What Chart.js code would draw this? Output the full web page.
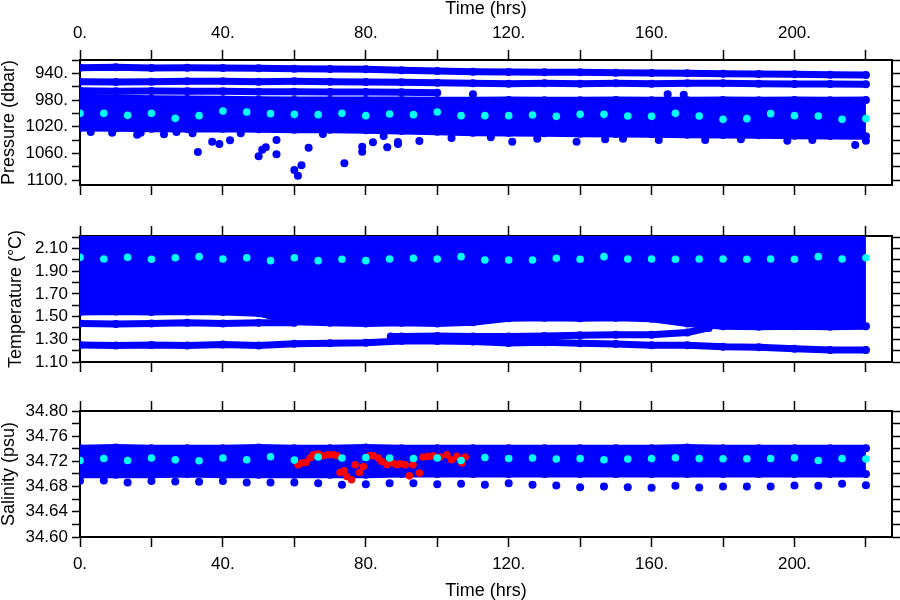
<!DOCTYPE html>
<html>
<head>
<meta charset="utf-8">
<script src="https://cdn.jsdelivr.net/npm/chart.js@4.4.1/dist/chart.umd.min.js"></script>
<style>
  body { margin: 0; background: #fff; }
  #wrap { position: relative; width: 900px; height: 600px; background: #fff; }
  #wrap canvas { position: absolute; left: 0; top: 0; }
</style>
</head>
<body>
<div id="wrap">
  <canvas id="pressure-chart" width="900" height="600"></canvas>
  <canvas id="temperature-chart" width="900" height="600"></canvas>
  <canvas id="salinity-chart" width="900" height="600"></canvas>
</div>
<script>
const BLUE = '#0000ff'
const CYAN = '#00ffff'
const RED = '#ff0000'
const FONT = "'Liberation Sans', Arial, sans-serif"

// time axis (hrs)
const xTicks = [0, 20, 40, 60, 80, 100, 120, 140, 160, 180, 200, 220]
const xLabelled = [0, 40, 80, 120, 160, 200]
const rowTimes = [0, 10, 20, 30, 40, 50, 60, 70, 80, 90, 100, 110, 120, 130, 140, 150, 160, 170, 180, 190, 200, 210, 220]
const cyanTimes = [0, 6.67, 13.33, 20, 26.67, 33.33, 40, 46.67, 53.33, 60, 66.67, 73.33, 80, 86.67, 93.33, 100,
    106.67, 113.33, 120, 126.67, 133.33, 140, 146.67, 153.33, 160, 166.67, 173.33, 180, 186.67, 193.33, 200, 206.67, 213.33, 220]

// pressure (dbar)
const presTicks = [920, 940, 960, 980, 1000, 1020, 1040, 1060, 1080, 1100]
const presLabelled = [940, 980, 1020, 1060, 1100]
const presRowA = [931.5, 931, 932, 931.5, 932, 932.5, 933, 933.5, 934, 935.5, 936.5, 937.5, 938, 938.5, 938.5, 939, 939.5, 940, 940.5, 941, 941.5, 942, 942.5]
const presRowB = [952.5, 953, 952.5, 952, 952, 952.5, 952, 952.5, 953, 953.5, 954, 955, 955.5, 955, 955.5, 955, 955.5, 955, 955, 955.5, 956, 956, 956.5]
const presRowCTimes = [0, 10, 20, 30, 40, 50, 60, 70, 80, 90, 100]
const presRowC = [966, 967, 966.5, 967, 967, 967.5, 967.5, 968, 968, 968.5, 969]
const presBandTop = [976, 977, 978, 978.5, 979, 979.5, 980, 980, 980, 980, 980.5, 980.5, 980, 980.5, 980.5, 980, 980.5, 980.5, 980, 980.5, 980, 980.5, 980]
const presBandBottom = [1022, 1022.5, 1023, 1023.5, 1023, 1024, 1024.5, 1024.5, 1025.5, 1026.5, 1027.5, 1029, 1029.5, 1030, 1030.5, 1031, 1031.5, 1032, 1032.5, 1033, 1033.5, 1034, 1034.5]
const presCyan = [1000, 1000, 1003, 1000, 1007.5, 1003.5, 996.5, 998, 1000.5, 1001.5, 1002, 1000, 1003.5, 1001, 1002, 998,
    1003.5, 1003.5, 1003.5, 1002.5, 1004.5, 1001.5, 1001.5, 1004, 1004.5, 1000, 1004, 1009, 1008, 1000.5, 1003.5, 1004, 1009, 1008]
const presOutTimes = [3, 9, 16, 17, 23.5, 27, 31.5, 33, 37, 39, 42, 45, 50, 51, 52, 55, 55, 60, 61, 62, 64, 68, 74, 79, 79, 82, 85, 86, 89, 89, 95,
    104, 110, 115, 121, 128, 139, 147, 152, 162, 164.5, 169, 175, 185, 198, 205, 217, 220]
const presOutValues = [1028, 1029, 1032, 1029, 1031.5, 1028, 1030, 1058, 1042.5, 1046, 1040.5, 1030, 1064.5, 1054.5, 1051, 1061.5, 1040, 1085, 1093.5, 1078, 1051.5, 1031, 1075, 1050, 1057.5, 1043.5, 1034, 1051, 1043, 1046, 1041.5,
    1037, 971.5, 1036, 1042.5, 1038, 1042.5, 1039, 1038, 1040, 971.5, 972, 1040, 1039, 1041, 1040, 1047.5, 1041]

// temperature (deg C)
const tempTicks = [1.1, 1.2, 1.3, 1.4, 1.5, 1.6, 1.7, 1.8, 1.9, 2.0, 2.1, 2.2]
const tempLabelled = [1.1, 1.3, 1.5, 1.7, 1.9, 2.1]
const tempBandBottom = [1.54, 1.545, 1.54, 1.545, 1.54, 1.53, 1.455, 1.445, 1.44, 1.445, 1.44, 1.45, 1.485, 1.49, 1.485, 1.49, 1.48, 1.44, 1.415, 1.41, 1.415, 1.41, 1.415]
const tempUpperRowTimes = [0, 10, 20, 30, 40, 50, 60]
const tempUpperRow = [1.44, 1.435, 1.44, 1.445, 1.44, 1.445, 1.445]
const tempMidRowTimes = [87, 90, 100, 110, 120, 130, 140, 150, 160, 170, 176]
const tempMidRow = [1.325, 1.325, 1.33, 1.325, 1.325, 1.33, 1.335, 1.34, 1.34, 1.36, 1.4]
const tempLowRow = [1.25, 1.245, 1.25, 1.245, 1.255, 1.245, 1.26, 1.265, 1.27, 1.285, 1.285, 1.28, 1.267, 1.275, 1.265, 1.259, 1.247, 1.247, 1.235, 1.23, 1.216, 1.205, 1.206]
const tempCyan = [2.022, 2.007, 2.022, 2.005, 2.019, 2.028, 2.007, 2.019, 1.993, 2.019, 1.993, 2.005, 1.993, 2.007, 2.014, 2.007,
    2.028, 1.999, 1.999, 1.999, 2.014, 2.005, 2.028, 2.007, 2.007, 2.005, 2.007, 2.007, 2.005, 2.007, 2.005, 2.028, 2.007, 2.019]

// salinity (psu)
const salTicks = [34.6, 34.62, 34.64, 34.66, 34.68, 34.7, 34.72, 34.74, 34.76, 34.78, 34.8]
const salLabelled = [34.6, 34.64, 34.68, 34.72, 34.76, 34.8]
const salBandTop = [34.741, 34.742, 34.741, 34.741, 34.741, 34.742, 34.741, 34.741, 34.742, 34.741, 34.741, 34.741, 34.741, 34.741, 34.741, 34.741, 34.741, 34.742, 34.741, 34.741, 34.741, 34.741, 34.741]
const salBandBottom = [34.699, 34.699, 34.699, 34.7, 34.699, 34.699, 34.699, 34.699, 34.699, 34.7, 34.7, 34.7, 34.7, 34.7, 34.7, 34.7, 34.7, 34.7, 34.7, 34.7, 34.7, 34.7, 34.7]
const salCyan = [34.7215, 34.7247, 34.7215, 34.7253, 34.7226, 34.721, 34.7253, 34.7226, 34.7274, 34.7221, 34.7269, 34.7253, 34.7263, 34.7253, 34.7247, 34.7253,
    34.7215, 34.7263, 34.7247, 34.7253, 34.7237, 34.7247, 34.7226, 34.7237, 34.7247, 34.7258, 34.7247, 34.7242, 34.7242, 34.7247, 34.7258, 34.7215, 34.7247, 34.7237]
const salLow = [34.6892, 34.6897, 34.6865, 34.689, 34.688, 34.6876, 34.689, 34.6865, 34.6865, 34.6865, 34.6855, 34.6828, 34.6839, 34.6855, 34.6855, 34.6839,
    34.6844, 34.6828, 34.6855, 34.6828, 34.6817, 34.6791, 34.6801, 34.6791, 34.678, 34.6812, 34.6785, 34.6801, 34.6801, 34.6801, 34.6817, 34.6812, 34.6844, 34.6823]
const salRedTimes = [61, 62, 63.2, 64.4, 65.3, 66.7, 68, 69.5, 70.9, 72, 72.8, 73.9, 74.7, 76, 77, 78.2, 79.3, 81, 82.1, 83.5, 84.5, 85.9, 87.5, 88.7, 89.5,
    91, 92.2, 93.2, 95, 96, 97.5, 98.9, 100.8, 102.7, 104, 105.5, 106.9, 107.8]
const salRed = [34.7146, 34.7174, 34.7183, 34.7253, 34.7306, 34.7317, 34.729, 34.7306, 34.7306, 34.729, 34.7024, 34.7051, 34.696, 34.6908, 34.7146, 34.7024, 34.7119,
    34.729, 34.729, 34.7253, 34.7199, 34.7146, 34.7174, 34.7146, 34.7162, 34.7146, 34.6971, 34.7146, 34.7014, 34.7269, 34.7279, 34.729, 34.7269, 34.7306, 34.7226, 34.7279, 34.7174, 34.7269]


function toPoints(xs, ys){
    let points = []
    for(let i=0; i<xs.length; i++){
        points.push({x: xs[i], y: ys[i]})
    }
    return points
}

function dots(xs, ys, color, radius){
    return {
        data: toPoints(xs, ys),
        showLine: false,
        pointRadius: radius,
        pointBackgroundColor: color,
        pointBorderWidth: 0,
        borderColor: color,
        backgroundColor: color
    }
}

// a row of dense dots: thick round line with dots on it
function row(xs, ys, fill){
    return {
        data: toPoints(xs, ys),
        showLine: true,
        borderColor: BLUE,
        backgroundColor: BLUE,
        borderWidth: 7,
        borderCapStyle: 'round',
        borderJoinStyle: 'round',
        pointRadius: 4,
        pointBackgroundColor: BLUE,
        pointBorderWidth: 0,
        tension: 0,
        fill: fill || false
    }
}

function fixedTicks(values){
    return (scale) => { scale.ticks = values.map(v => ({value: v})) }
}

function axis(position, panel, extra){
    const horizontal = position === 'top' || position === 'bottom'
    return Object.assign({
        type: 'linear',
        position: position,
        z: 1,
        min: horizontal ? 0 : panel.min,
        max: horizontal ? 227.3 : panel.max,
        reverse: horizontal ? false : !!panel.reverse,
        border: {display: true, color: '#000', width: 2},
        grid: {drawOnChartArea: false, drawTicks: true, tickLength: horizontal ? 10 : 8, tickWidth: 1.5, tickColor: '#000'},
        ticks: {display: false, autoSkip: false, maxRotation: 0, color: '#000', font: {family: FONT, size: 17}},
        title: {display: false},
        afterBuildTicks: fixedTicks(horizontal ? xTicks : panel.ticks)
    }, extra)
}

function displayPanel(id, panel){
    const tickFont = {family: FONT, size: 17}
    const titleFont = {family: FONT, size: 18, lineHeight: 1}
    const xLabel = (v) => xLabelled.includes(v) ? v + '.' : ''
    const yLabel = (v) => panel.labelled.includes(v) ? panel.format(v) : ''
    const timeTitle = {display: true, text: 'Time (hrs)', color: '#000', font: titleFont, padding: 0}

    new Chart(document.getElementById(id), {
        type: 'line',
        data: {datasets: panel.datasets},
        options: {
            responsive: false,
            animation: false,
            events: [],
            layout: {padding: 0, autoPadding: false},
            plugins: {legend: {display: false}, tooltip: {enabled: false}},
            scales: {
                x: axis('bottom', panel, {
                    ticks: {display: panel.bottomLabels, autoSkip: false, maxRotation: 0, padding: 7, color: '#000', font: tickFont, callback: xLabel},
                    title: panel.bottomLabels ? timeTitle : {display: false},
                    afterFit: (s) => { s.height = 600 - panel.bottom }
                }),
                x2: axis('top', panel, {
                    ticks: {display: panel.topLabels, autoSkip: false, maxRotation: 0, padding: 6, color: '#000', font: tickFont, callback: xLabel},
                    title: panel.topLabels ? timeTitle : {display: false},
                    afterFit: (s) => { s.height = panel.top }
                }),
                y: axis('left', panel, {
                    ticks: {display: true, autoSkip: false, padding: 4, color: '#000', font: tickFont, callback: yLabel},
                    title: {display: true, text: panel.title, color: '#000', font: titleFont, padding: {top: panel.titleShift, bottom: 0}},
                    afterFit: (s) => { s.width = 80 }
                }),
                y2: axis('right', panel, {
                    afterFit: (s) => { s.width = 8 }
                })
            }
        }
    })
}

function loadPanels(){
    displayPanel('pressure-chart', {
        top: 60, bottom: 185, min: 920, max: 1107.5, reverse: true,
        ticks: presTicks, labelled: presLabelled, format: (v) => v + '.',
        title: 'Pressure (dbar)', titleShift: 0, topLabels: true, bottomLabels: false,
        datasets: [
            dots(cyanTimes, presCyan, CYAN, 3.8),
            dots(presOutTimes, presOutValues, BLUE, 4),
            row(rowTimes, presRowA),
            row(rowTimes, presRowB),
            row(presRowCTimes, presRowC),
            row(rowTimes, presBandTop, '+1'),
            row(rowTimes, presBandBottom)
        ]
    })
    displayPanel('temperature-chart', {
        top: 236, bottom: 362, min: 1.1, max: 2.21,
        ticks: tempTicks, labelled: tempLabelled, format: (v) => v.toFixed(2),
        title: 'Temperature (°C)', titleShift: 7, topLabels: false, bottomLabels: false,
        datasets: [
            dots(cyanTimes, tempCyan, CYAN, 3.8),
            row(rowTimes, tempBandBottom, 'end'),
            row(tempUpperRowTimes, tempUpperRow),
            row(tempMidRowTimes, tempMidRow),
            row(rowTimes, tempLowRow)
        ]
    })
    displayPanel('salinity-chart', {
        top: 411, bottom: 537, min: 34.6, max: 34.8,
        ticks: salTicks, labelled: salLabelled, format: (v) => v.toFixed(2),
        title: 'Salinity (psu)', titleShift: 0, topLabels: false, bottomLabels: true,
        datasets: [
            dots(cyanTimes, salCyan, CYAN, 3.8),
            dots(salRedTimes, salRed, RED, 3.8),
            dots(cyanTimes, salLow, BLUE, 4),
            row(rowTimes, salBandTop, '+1'),
            row(rowTimes, salBandBottom)
        ]
    })
}

window.onload = loadPanels
</script>
</body>
</html>
